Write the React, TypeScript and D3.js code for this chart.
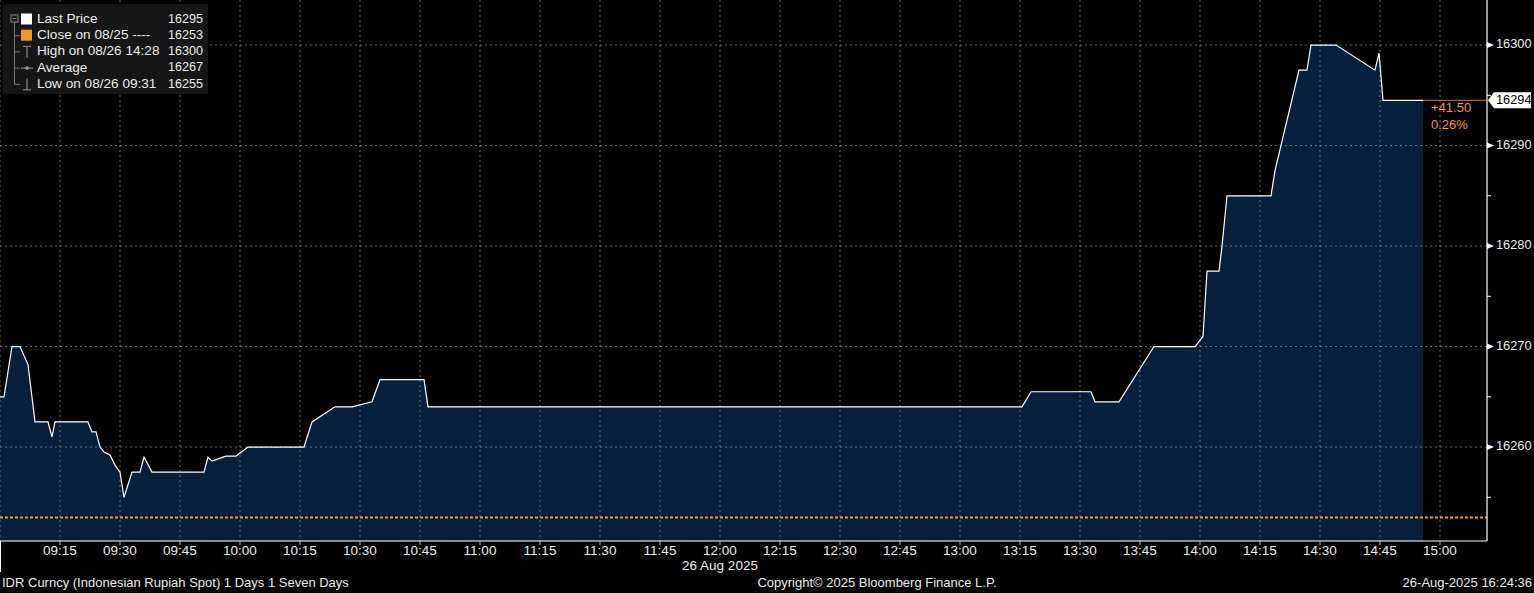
import React from "react";
import * as d3 from "d3";

// ---- data ----
const times = [
  "09:00:00", "09:01:00", "09:03:00", "09:05:00", "09:07:00", "09:08:45", "09:12:00", "09:13:00",
  "09:13:45", "09:22:00", "09:23:00", "09:24:00", "09:25:00", "09:26:00", "09:27:30", "09:28:45",
  "09:30:00", "09:31:00", "09:33:00", "09:35:00", "09:36:00", "09:38:00", "09:51:00", "09:52:00",
  "09:53:00", "09:56:30", "09:59:00", "10:02:00", "10:16:00", "10:18:00", "10:23:45", "10:28:00",
  "10:33:00", "10:35:00", "10:46:00", "10:47:00", "13:15:30", "13:17:45", "13:32:45", "13:33:45",
  "13:39:45", "13:48:30", "13:58:45", "14:00:45", "14:01:45", "14:04:45", "14:05:30", "14:06:45",
  "14:17:45", "14:18:45", "14:24:45", "14:26:45", "14:27:45", "14:34:00", "14:43:45", "14:44:45",
  "14:45:45", "14:55:45",
];
const prices = [
  16265, 16265, 16270, 16270, 16268.2, 16262.5, 16262.5, 16261,
  16262.5, 16262.5, 16261.5, 16261.5, 16260, 16259.5, 16259.2, 16258.2,
  16257.5, 16255, 16257.5, 16257.5, 16259, 16257.5, 16257.5, 16259,
  16258.6, 16259.1, 16259.1, 16260, 16260, 16262.5, 16264, 16264,
  16264.5, 16266.7, 16266.7, 16264, 16264, 16265.5, 16265.5, 16264.5,
  16264.5, 16270, 16270, 16271, 16277.5, 16277.5, 16280, 16285,
  16285, 16287.5, 16297.5, 16297.5, 16300, 16300, 16297.5, 16299.2,
  16294.5, 16294.5,
];
const closePrev = 16253;
const xTickLabels = [
  "09:15", "09:30", "09:45", "10:00", "10:15", "10:30", "10:45", "11:00", "11:15", "11:30", "11:45",
  "12:00", "12:15", "12:30", "12:45", "13:00", "13:15", "13:30", "13:45", "14:00", "14:15", "14:30",
  "14:45", "15:00",
];
const gridTimes = ["09:00", ...xTickLabels];
const yTickValues = [16260, 16270, 16280, 16290, 16300];
const yMinorValues = [16255, 16265, 16275, 16285, 16295];
const legendNames = ["Last Price", "Close on 08/25 ----", "High on 08/26 14:28", "Average", "Low on 08/26 09:31"];
const legendValues = ["16295", "16253", "16300", "16267", "16255"];
const dateLabel = "26 Aug 2025";
const footerLeft = "IDR Curncy (Indonesian Rupiah Spot) 1 Days 1 Seven Days";
const footerCenter = "Copyright\u00A9 2025 Bloomberg Finance L.P.";
const footerRight = "26-Aug-2025 16:24:36";

const W = 1534;
const H = 593;
const PL = 0;
const PR = 1487;
const PT = 0;
const PB = 541;
const FONT = "'Liberation Sans', Arial, sans-serif";
const TXT = "#ececec";
const ORANGE = "#f39a3a";

const parseT = d3.timeParse("%H:%M:%S");
const parseHM = d3.timeParse("%H:%M");

export default function App() {
  const data = times.map((t, i) => ({ t: parseT(t) as Date, v: prices[i] }));
  const x = d3
    .scaleTime()
    .domain([parseT("09:00:00") as Date, parseT("15:11:45") as Date])
    .range([PL, PR]);
  const y = d3.scaleLinear().domain([16250.65, 16304.48]).range([PB, PT]);

  const area = d3
    .area<{ t: Date; v: number }>()
    .x((d) => x(d.t))
    .y0(PB)
    .y1((d) => y(d.v));
  const line = d3
    .line<{ t: Date; v: number }>()
    .x((d) => x(d.t))
    .y((d) => y(d.v));

  const last = data[data.length - 1];
  const lastX = x(last.t);
  const lastY = y(last.v);
  const change = last.v - closePrev;
  const pct = (change / closePrev) * 100;

  const legendRowY = (i: number) => 19.5 + i * 16.2;

  return (
    <svg
      width={W}
      height={H}
      style={{ position: "fixed", left: 0, top: 0, display: "block", background: "#000" }}
      fontFamily={FONT}
    >
      <rect x={0} y={0} width={W} height={H} fill="#000" />
      {/* area + line */}
      <path d={area(data) || ""} fill="#061f3d" />
      {/* grid */}
      {gridTimes.map((g) => {
        const gx = x(parseHM(g) as Date);
        return (
          <line key={"vg" + g} x1={gx} x2={gx} y1={PT} y2={PB} stroke="#8c8c8c" strokeOpacity={0.75} strokeDasharray="2,3" strokeWidth={1} />
        );
      })}
      {yTickValues.map((v) => (
        <line key={"hg" + v} x1={PL} x2={PR} y1={y(v)} y2={y(v)} stroke="#8c8c8c" strokeOpacity={0.75} strokeDasharray="2,3" strokeWidth={1} />
      ))}
      <path d={line(data) || ""} fill="none" stroke="#ffffff" strokeWidth={1.2} />
      {/* previous close */}
      <line x1={PL} x2={PR} y1={y(closePrev)} y2={y(closePrev)} stroke={ORANGE} strokeWidth={2} strokeDasharray="3,2" />
      {/* last price extension */}
      <line x1={lastX} x2={PR} y1={lastY} y2={lastY} stroke="#e07a2c" strokeWidth={1} />
      <text x={1431} y={lastY + 8} fill={ORANGE} fontSize={13} dominantBaseline="middle">
        {d3.format("+.2f")(change)}
      </text>
      <text x={1431} y={lastY + 25} fill={ORANGE} fontSize={13} dominantBaseline="middle">
        {d3.format(".2f")(pct) + "%"}
      </text>
      {/* axes */}
      <line x1={PR} x2={PR} y1={0} y2={PB} stroke="#ffffff" strokeWidth={1.2} />
      <line x1={0} x2={PR} y1={PB} y2={PB} stroke="#ffffff" strokeWidth={1.2} />
      <line x1={0.5} x2={0.5} y1={PB} y2={572} stroke="#ffffff" strokeWidth={1} />
      {yTickValues.map((v) => (
        <g key={"yt" + v}>
          <polygon points={`${PR},${y(v) - 3} ${PR + 7},${y(v)} ${PR},${y(v) + 3}`} fill="#ffffff" />
          <text x={PR + 9} y={y(v)} fill={TXT} fontSize={12.8} dominantBaseline="middle">
            {v}
          </text>
        </g>
      ))}
      {yMinorValues.map((v) => (
        <line key={"ym" + v} x1={PR} x2={PR + 4} y1={y(v)} y2={y(v)} stroke="#ffffff" strokeWidth={1} />
      ))}
      {/* last price label */}
      <polygon
        points={`${PR + 1},${lastY} ${PR + 7},${lastY - 8} ${PR + 44},${lastY - 8} ${PR + 44},${lastY + 8} ${PR + 7},${lastY + 8}`}
        fill="#ffffff"
      />
      <text x={PR + 9} y={lastY + 0.5} fill="#000" fontSize={12.8} dominantBaseline="middle">
        {String(Math.floor(last.v))}
      </text>
      {xTickLabels.map((l) => {
        const tx = x(parseHM(l) as Date);
        return (
          <g key={"xt" + l}>
            <line x1={tx} x2={tx} y1={PB} y2={PB + 4} stroke="#bbbbbb" strokeWidth={1} />
            <text x={tx} y={551} fill={TXT} fontSize={13.5} textAnchor="middle" dominantBaseline="middle">
              {l}
            </text>
          </g>
        );
      })}
      <text x={x(parseHM("12:00") as Date)} y={566.5} fill={TXT} fontSize={13.5} textAnchor="middle" dominantBaseline="middle">
        {dateLabel}
      </text>
      {/* footer */}
      <text x={2} y={584} fill={TXT} fontSize={13} dominantBaseline="middle">
        {footerLeft}
      </text>
      <text x={877} y={584} fill={TXT} fontSize={13} textAnchor="middle" dominantBaseline="middle">
        {footerCenter}
      </text>
      <text x={1532} y={584} fill={TXT} fontSize={13} textAnchor="end" dominantBaseline="middle">
        {footerRight}
      </text>
      {/* legend */}
      <rect x={3} y={4} width={205} height={90} fill="#161616" />
      <rect x={11} y={15} width={7} height={7} fill="none" stroke="#888" strokeWidth={1} />
      <line x1={12.5} x2={16.5} y1={18.5} y2={18.5} stroke="#888" />
      <line x1={14.5} x2={14.5} y1={22} y2={legendRowY(4)} stroke="#777" />
      {legendNames.map((n, i) => {
        const ry = legendRowY(i);
        return (
          <g key={"lg" + i}>
            {i > 0 && <line x1={14.5} x2={20} y1={ry} y2={ry} stroke="#777" />}
            {i === 0 && <rect x={21} y={ry - 6} width={11} height={11} fill="#ffffff" />}
            {i === 1 && <rect x={21} y={ry - 6} width={11} height={11} fill="#f7941d" />}
            {i === 2 && (
              <g stroke="#999" strokeWidth={1}>
                <line x1={23} x2={31} y1={ry - 5.5} y2={ry - 5.5} />
                <line x1={27} x2={27} y1={ry - 5.5} y2={ry + 6} />
              </g>
            )}
            {i === 3 && (
              <g>
                <line x1={21} x2={33} y1={ry} y2={ry} stroke="#999" />
                <circle cx={27} cy={ry} r={1.8} fill="#999" />
              </g>
            )}
            {i === 4 && (
              <g stroke="#999" strokeWidth={1}>
                <line x1={23} x2={31} y1={ry + 5.5} y2={ry + 5.5} />
                <line x1={27} x2={27} y1={ry - 6} y2={ry + 5.5} />
              </g>
            )}
            <text x={37} y={ry} fill={TXT} fontSize={13.6} dominantBaseline="middle">
              {n}
            </text>
            <text x={203} y={ry} fill={TXT} fontSize={12.6} textAnchor="end" dominantBaseline="middle">
              {legendValues[i]}
            </text>
          </g>
        );
      })}
    </svg>
  );
}
